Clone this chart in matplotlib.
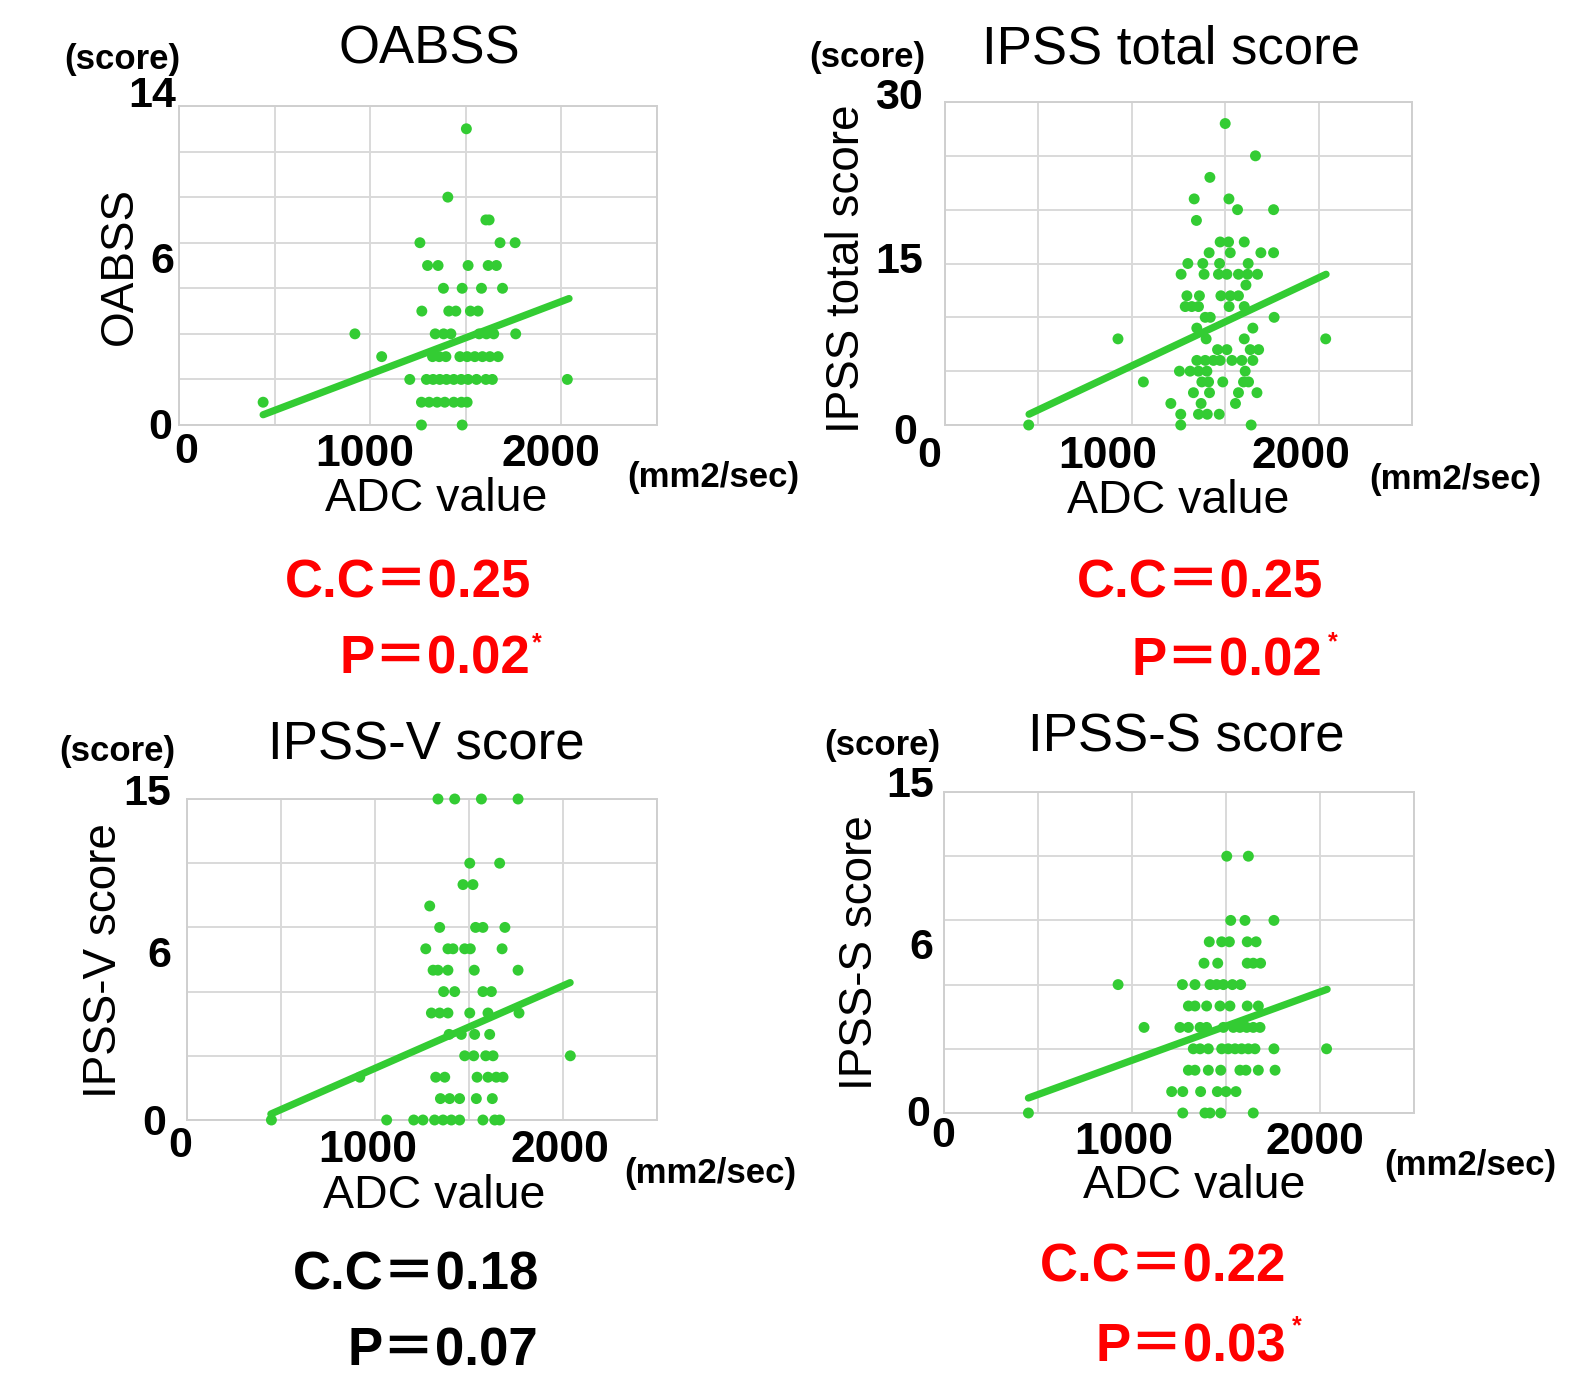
import matplotlib
matplotlib.use("Agg")
import matplotlib.pyplot as plt
import numpy as np

plt.rcParams['font.family'] = ['Liberation Sans', 'Noto Sans CJK JP', 'DejaVu Sans']

W, H = 1590, 1377
GREEN = '#33cc33'
GRID = '#d9d9d9'

# ---------------- data (ADC value, score) ----------------
oabss_adc = [1503,
             1406,
             1605, 1622,
             1260, 1679, 1758,
             1300, 1355, 1512, 1617, 1660,
             1383, 1481, 1582, 1692,
             1270, 1411, 1448, 1524, 1564,
             920, 1340, 1384, 1422, 1570, 1608, 1646, 1761,
             1060, 1326, 1361, 1396, 1469, 1507, 1547, 1587, 1626, 1669,
             1207, 1294, 1329, 1364, 1399, 1437, 1476, 1512, 1556, 1605, 1639, 2031,
             440, 1268, 1308, 1350, 1390, 1437, 1477, 1507,
             1268, 1481]
oabss_score = [13,
               10,
               9, 9,
               8, 8, 8,
               7, 7, 7, 7, 7,
               6, 6, 6, 6,
               5, 5, 5, 5, 5,
               4, 4, 4, 4, 4, 4, 4, 4,
               3, 3, 3, 3, 3, 3, 3, 3, 3, 3,
               2, 2, 2, 2, 2, 2, 2, 2, 2, 2, 2, 2,
               1, 1, 1, 1, 1, 1, 1, 1,
               0, 0]

ipss_adc = [1500,
            1662,
            1418,
            1334, 1520,
            1566, 1759,
            1346,
            1473, 1518, 1602,
            1414, 1527, 1691, 1759,
            1300, 1380, 1470, 1623,
            1264, 1387, 1464, 1509, 1571, 1620, 1673,
            1611,
            1295, 1362, 1477, 1527, 1571,
            1286, 1321, 1357, 1521, 1602,
            1393, 1420, 1762,
            1348, 1648,
            926, 1398, 1602, 2038,
            1459, 1509, 1634, 1679,
            1348, 1393, 1437, 1473, 1536, 1589, 1648,
            1255, 1312, 1357, 1402, 1607,
            1062, 1375, 1411, 1487, 1598, 1625,
            1330, 1416, 1571, 1670,
            1209, 1371, 1555,
            1262, 1357, 1404, 1468,
            448, 1262, 1639]
ipss_score = [28,
              25,
              23,
              21, 21,
              20, 20,
              19,
              17, 17, 17,
              16, 16, 16, 16,
              15, 15, 15, 15,
              14, 14, 14, 14, 14, 14, 14,
              13,
              12, 12, 12, 12, 12,
              11, 11, 11, 11, 11,
              10, 10, 10,
              9, 9,
              8, 8, 8, 8,
              7, 7, 7, 7,
              6, 6, 6, 6, 6, 6, 6,
              5, 5, 5, 5, 5,
              4, 4, 4, 4, 4, 4,
              3, 3, 3, 3,
              2, 2, 2,
              1, 1, 1, 1,
              0, 0, 0]

ipssv_adc = [1335, 1424, 1566, 1761,
             1504, 1663,
             1468, 1521,
             1291,
             1344, 1535, 1574, 1691,
             1270, 1388, 1415, 1477, 1507, 1676,
             1309, 1335, 1388, 1528, 1761,
             1365, 1424, 1574, 1619,
             1300, 1344, 1388, 1504, 1601, 1766,
             1394, 1459, 1530, 1610,
             1477, 1525, 1589, 1628, 2039,
             919, 1323, 1371, 1543, 1601, 1645, 1681,
             1348, 1397, 1450, 1539, 1624,
             449, 1062, 1206, 1255, 1317, 1362, 1406, 1450, 1574, 1637, 1663]
ipssv_score = [15, 15, 15, 15,
               12, 12,
               11, 11,
               10,
               9, 9, 9, 9,
               8, 8, 8, 8, 8, 8,
               7, 7, 7, 7, 7,
               6, 6, 6, 6,
               5, 5, 5, 5, 5, 5,
               4, 4, 4, 4,
               3, 3, 3, 3, 3,
               2, 2, 2, 2, 2, 2, 2,
               1, 1, 1, 1, 1,
               0, 0, 0, 0, 0, 0, 0, 0, 0, 0, 0]

ipsss_adc = [1504, 1619,
             1525, 1601, 1755,
             1411, 1477, 1518, 1613, 1660,
             1383, 1456, 1613, 1645, 1684,
             926, 1268, 1335, 1415, 1450, 1486, 1534, 1578,
             1300, 1335, 1397, 1468, 1521, 1613, 1672,
             1064, 1255, 1300, 1362, 1397, 1486, 1539, 1574, 1610, 1645, 1681,
             1326, 1362, 1406, 1477, 1512, 1548, 1583, 1619, 1654, 1755, 2035,
             1300, 1335, 1406, 1472, 1574, 1606, 1672, 1761,
             1211, 1270, 1365, 1454, 1500, 1553,
             449, 1270, 1388, 1415, 1472, 1645]
ipsss_score = [12, 12,
               9, 9, 9,
               8, 8, 8, 8, 8,
               7, 7, 7, 7, 7,
               6, 6, 6, 6, 6, 6, 6, 6,
               5, 5, 5, 5, 5, 5, 5,
               4, 4, 4, 4, 4, 4, 4, 4, 4, 4, 4,
               3, 3, 3, 3, 3, 3, 3, 3, 3, 3, 3,
               2, 2, 2, 2, 2, 2, 2, 2,
               1, 1, 1, 1, 1, 1,
               0, 0, 0, 0, 0, 0]

# regression lines (endpoints)
oabss_fit_x = [440, 2040]
oabss_fit_y = [0.45, 5.55]
ipss_fit_x = [450, 2040]
ipss_fit_y = [1.0, 14.0]
ipssv_fit_x = [446, 2038]
ipssv_fit_y = [0.28, 6.42]
ipsss_fit_x = [449, 2038]
ipsss_fit_y = [0.70, 5.78]

titles = ['OABSS', 'IPSS total score', 'IPSS-V score', 'IPSS-S score']
ylabels = ['OABSS', 'IPSS total score', 'IPSS-V score', 'IPSS-S score']
ytick_texts = [['0', '6', '14'], ['0', '15', '30'], ['0', '6', '15'], ['0', '6', '15']]
y_max = [14, 30, 15, 15]
y_step = [2, 5, 3, 3]
x_tick_texts = ['0', '1000', '2000']
cc_texts = ['C.C＝0.25', 'C.C＝0.25', 'C.C＝0.18', 'C.C＝0.22']
p_texts = ['P＝0.02', 'P＝0.02', 'P＝0.07', 'P＝0.03']
significant = [True, True, False, True]

series = [(oabss_adc, oabss_score, oabss_fit_x, oabss_fit_y),
          (ipss_adc, ipss_score, ipss_fit_x, ipss_fit_y),
          (ipssv_adc, ipssv_score, ipssv_fit_x, ipssv_fit_y),
          (ipsss_adc, ipsss_score, ipsss_fit_x, ipsss_fit_y)]

# ---------------- layout (pixel positions) ----------------
axes_px = [(179, 657, 106, 425), (945, 1412, 102, 425),
           (187, 657, 799, 1120), (944, 1414, 792, 1113)]
layout = [
    dict(title=(429, 49), score=(122, 59), yt=[(160, 428), (162, 262), (152, 96)],
         x0=(186, 452), x1000=(365, 455), x2000=(551, 455), unit=(713, 477),
         adc=(436, 499), ylab=(120, 266), cc=(408, 584), p=(435, 660), star=(537, 643)),
    dict(title=(1171, 49), score=(867, 58), yt=[(905, 433), (899, 262), (899, 98)],
         x0=(929, 456), x1000=(1108, 456), x2000=(1301, 456), unit=(1455, 479),
         adc=(1178, 501), ylab=(847, 269), cc=(1200, 584), p=(1227, 661), star=(1333, 642)),
    dict(title=(426, 745), score=(117, 752), yt=[(154, 1124), (159, 956), (147, 794)],
         x0=(180, 1146), x1000=(368, 1151), x2000=(560, 1151), unit=(710, 1174),
         adc=(434, 1196), ylab=(104, 961), cc=(416, 1275), p=(443, 1352), star=None),
    dict(title=(1186, 738), score=(882, 745), yt=[(918, 1115), (921, 948), (910, 786)],
         x0=(943, 1136), x1000=(1124, 1143), x2000=(1315, 1143), unit=(1470, 1166),
         adc=(1194, 1186), ylab=(860, 953), cc=(1163, 1268), p=(1191, 1347), star=(1297, 1326)),
]

fig = plt.figure(figsize=(W / 100, H / 100), dpi=100)


def ftxt(pos, s, **kw):
    fig.text(pos[0] / W, 1 - pos[1] / H, s, ha=kw.pop('ha', 'center'),
             va=kw.pop('va', 'center'), **kw)


for i in range(4):
    x0, x1, y0, y1 = axes_px[i]
    ax = fig.add_axes([x0 / W, 1 - y1 / H, (x1 - x0) / W, (y1 - y0) / H])
    adc, score, fx, fy = series[i]
    ax.set_xlim(0, 2500)
    ax.set_ylim(0, y_max[i])
    ax.set_xticks(np.arange(0, 2501, 500))
    ax.set_yticks(np.arange(0, y_max[i] + 0.1, y_step[i]))
    ax.grid(True, color=GRID, linewidth=1.4)
    ax.set_axisbelow(True)
    for sp in ax.spines.values():
        sp.set_color('#cfcfcf')
        sp.set_linewidth(1.4)
    ax.tick_params(length=0, labelleft=False, labelbottom=False)
    ax.plot(fx, fy, color=GREEN, lw=5.2, solid_capstyle='round', zorder=3, clip_on=False)
    ax.scatter(adc, score, s=62, color=GREEN, edgecolors='none', zorder=4, clip_on=False)

    L = layout[i]
    ftxt(L['title'], titles[i], fontsize=38)
    ftxt(L['score'], '(score)', fontsize=25, fontweight='bold')
    for pos, t in zip(L['yt'], ytick_texts[i]):
        ftxt(pos, t, fontsize=31, fontweight='bold')
    ftxt(L['x0'], x_tick_texts[0], fontsize=31, fontweight='bold')
    ftxt(L['x1000'], x_tick_texts[1], fontsize=32, fontweight='bold')
    ftxt(L['x2000'], x_tick_texts[2], fontsize=32, fontweight='bold')
    ftxt(L['unit'], '(mm2/sec)', fontsize=25, fontweight='bold')
    ftxt(L['adc'], 'ADC value', fontsize=33.5)
    ftxt(L['ylab'], ylabels[i], fontsize=33, rotation=90)
    col = 'red' if significant[i] else 'black'
    ftxt(L['cc'], cc_texts[i], fontsize=38, fontweight='bold', color=col)
    ftxt(L['p'], p_texts[i], fontsize=38, fontweight='bold', color=col)
    if L['star'] is not None:
        ftxt(L['star'], '*', fontsize=18, fontweight='bold', color=col)

fig.savefig('out.png', dpi=100)
